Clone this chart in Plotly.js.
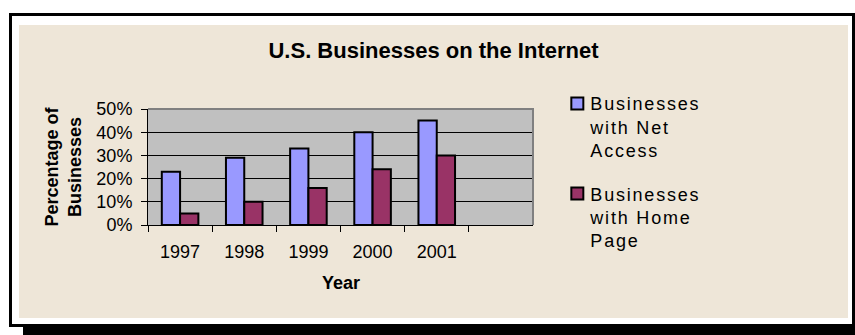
<!DOCTYPE html>
<html>
<head>
<meta charset="utf-8">
<script src="https://cdn.plot.ly/plotly-3.0.1.min.js"></script>
<style>
  html, body { margin: 0; padding: 0; background: #ffffff; }
  #wrap { position: relative; width: 855px; height: 335px; overflow: hidden; background: #ffffff; }
  #shadow { position: absolute; left: 23px; top: 27px; width: 860px; height: 314px; background: #000000; }
  #frame { position: absolute; left: 9px; top: 13px; width: 840px; height: 308px; border: 3px solid #000000; background: #ffffff; }
  #chart { position: absolute; left: 19px; top: 25px; width: 829px; height: 293px; }
  .legendtext { letter-spacing: 1.8px; }
  #chart .legendsymbols { transform: translateX(7px); }
</style>
</head>
<body>
<div id="wrap">
  <div id="shadow"></div>
  <div id="frame"></div>
  <div id="chart"></div>
</div>
<script>
const years = ['1997', '1998', '1999', '2000', '2001'];
const netAccess = [23, 29, 33, 40, 45];
const homePage = [5, 10, 16, 24, 30];
const seriesNames = ['Businesses<br>with Net<br>Access', 'Businesses<br>with Home<br>Page'];
const yTicks = [0, 10, 20, 30, 40, 50];
const yTickText = ['0%', '10%', '20%', '30%', '40%', '50%'];
const chartTitle = 'U.S. Businesses on the Internet';
const xTitle = 'Year';
const yTitle = 'Percentage of<br>Businesses';

const FONT = 'Liberation Sans, Arial, Helvetica, sans-serif';

const traces = [
  {
    type: 'bar', x: years, y: netAccess, name: seriesNames[0], legendgroup: 'a',
    marker: { color: '#9999FF', line: { color: '#000000', width: 2 } },
    hoverinfo: 'x+y'
  },
  {
    type: 'bar', x: years, y: homePage, name: seriesNames[1], legendgroup: 'b',
    marker: { color: '#993366', line: { color: '#000000', width: 2 } },
    hoverinfo: 'x+y'
  }
];

const layout = {
  width: 829, height: 293,
  margin: { l: 129, r: 315, t: 84, b: 93, pad: 0 },
  paper_bgcolor: '#EEE6D8',
  plot_bgcolor: '#C0C0C0',
  font: { family: FONT, color: '#000000', size: 18 },
  title: {
    text: '<b>' + chartTitle + '</b>',
    font: { family: FONT, size: 22, color: '#000000' },
    x: 0.5, xanchor: 'center', xref: 'container',
    y: 1 - 18 / 293, yanchor: 'top', yref: 'container'
  },
  barmode: 'group',
  bargap: 0.43,
  bargroupgap: 0,
  showlegend: true,
  legend: {
    x: 1.045, xanchor: 'left', y: 1.205, yanchor: 'top',
    bgcolor: 'rgba(0,0,0,0)', borderwidth: 0,
    font: { family: FONT, size: 18, color: '#000000' },
    traceorder: 'grouped', tracegroupgap: 17, valign: 'top',
    maxheight: 1000
  },
  xaxis: {
    type: 'category',
    categoryorder: 'array', categoryarray: years,
    range: [-0.5, 5.5],
    tickson: 'boundaries',
    ticks: 'outside', ticklen: 6, tickwidth: 1, tickcolor: '#000000',
    ticklabelstandoff: 10,
    showline: true, linecolor: '#000000', linewidth: 1,
    showgrid: false, zeroline: false,
    tickfont: { family: FONT, size: 18, color: '#000000' },
    fixedrange: true
  },
  yaxis: {
    range: [0, 50],
    tickvals: yTicks, ticktext: yTickText,
    ticks: 'outside', ticklen: 6, tickwidth: 1, tickcolor: '#000000',
    ticklabelstandoff: 5,
    showline: true, linecolor: '#000000', linewidth: 1,
    showgrid: true, gridcolor: '#000000', gridwidth: 1,
    zeroline: false,
    tickfont: { family: FONT, size: 18, color: '#000000' },
    fixedrange: true
  },
  annotations: [
    { text: '<b>' + xTitle + '</b>', xref: 'paper', yref: 'paper',
      x: 0.5, y: -0.50, xanchor: 'center', yanchor: 'middle', showarrow: false,
      font: { family: FONT, size: 18, color: '#000000' } },
    { text: '<b>' + yTitle + '</b>', xref: 'paper', yref: 'paper',
      x: -0.222, y: 0.5, xanchor: 'center', yanchor: 'middle', showarrow: false,
      textangle: -90,
      font: { family: FONT, size: 18, color: '#000000' } }
  ],
  shapes: [
    { type: 'path', xref: 'paper', yref: 'paper', path: 'M 0 1 L 1 1 L 1 0',
      line: { color: '#808080', width: 2 }, layer: 'above' }
  ]
};

Plotly.newPlot('chart', traces, layout, { displayModeBar: false, staticPlot: true });
</script>
</body>
</html>
